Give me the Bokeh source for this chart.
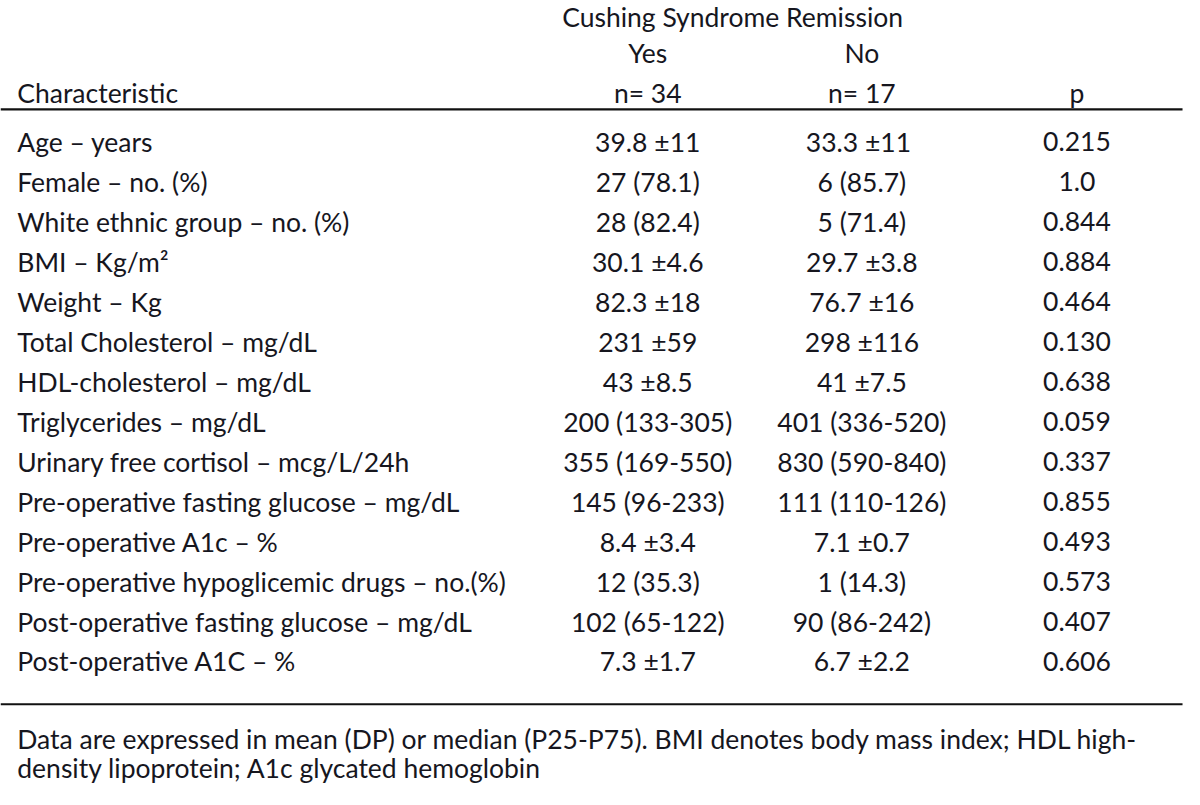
from bokeh.plotting import figure
from bokeh.models import Range1d, ColumnDataSource
from bokeh.core.properties import value
from bokeh.embed import file_html
from bokeh.resources import INLINE

# ---- data ----
characteristics = [
    "Age –  years",
    "Female – no. (%)",
    "White ethnic group – no. (%)",
    "BMI –  Kg/m²",
    "Weight –  Kg",
    "Total Cholesterol – mg/dL",
    "HDL-cholesterol – mg/dL",
    "Triglycerides – mg/dL",
    "Urinary free cortisol – mcg/L/24h",
    "Pre-operative fasting glucose – mg/dL",
    "Pre-operative A1c  – %",
    "Pre-operative hypoglicemic drugs – no.(%)",
    "Post-operative fasting glucose – mg/dL",
    "Post-operative A1C – %",
]
remission_yes = [
    "39.8 ±11", "27 (78.1)", "28 (82.4)", "30.1 ±4.6", "82.3 ±18", "231 ±59",
    "43 ±8.5", "200 (133-305)", "355 (169-550)", "145 (96-233)", "8.4 ±3.4",
    "12 (35.3)", "102 (65-122)", "7.3 ±1.7",
]
remission_no = [
    "33.3  ±11", "6 (85.7)", "5 (71.4)", "29.7 ±3.8", "76.7 ±16", "298 ±116",
    "41 ±7.5", "401 (336-520)", "830 (590-840)", "111 (110-126)", "7.1 ±0.7",
    "1 (14.3)", "90 (86-242)", "6.7 ±2.2",
]
p_values = [
    "0.215", "1.0", "0.844", "0.884", "0.464", "0.130", "0.638", "0.059",
    "0.337", "0.855", "0.493", "0.573", "0.407", "0.606",
]
group_title = "Cushing Syndrome Remission"
group_labels = ["Yes", "No"]
n_labels = ["n= 34", "n= 17"]
first_col_title = "Characteristic"
p_title = "p"
footnote = [
    "Data are expressed in mean (DP) or median (P25-P75). BMI denotes body mass index; HDL high-",
    "density lipoprotein; A1c glycated hemoglobin",
]

# ---- layout (reference pixel coordinates) ----
X_LEFT, X_YES, X_NO, X_P = 17, 656, 873, 1091
X_GROUP = 742
Y_TITLE, Y_GROUP, Y_N = 17, 54, 94
Y_LINE1, Y_LINE2 = 111, 718
Y_ROW0, ROW_STEP = 144, 40.8
Y_FOOT0, FOOT_STEP = 753, 30
FONT = value("Lato")
SIZE = "26.5px"
COLOR = "#16161e"

p = figure(width=1184, height=789, output_backend="svg", toolbar_location=None,
           x_range=Range1d(0, 1200), y_range=Range1d(805, 0),
           min_border=0, outline_line_color=None)
p.axis.visible = False
p.grid.visible = False
p.background_fill_color = "white"
p.border_fill_color = "white"

def put(xs, ys, texts, align):
    src = ColumnDataSource(dict(x=xs, y=ys, t=texts))
    p.text(x="x", y="y", text="t", source=src, text_font=FONT,
           text_font_size=SIZE, text_color=COLOR, text_align=align,
           text_baseline="middle")

# header
put([X_GROUP], [Y_TITLE], [group_title], "center")
put([X_YES, X_NO], [Y_GROUP, Y_GROUP], group_labels, "center")
put([X_LEFT], [Y_N], [first_col_title], "left")
put([X_YES, X_NO], [Y_N, Y_N], n_labels, "center")
put([X_P], [Y_N], [p_title], "center")

# rules
p.segment(x0=[0, 0], y0=[Y_LINE1, Y_LINE2], x1=[1198, 1198], y1=[Y_LINE1, Y_LINE2],
          line_color="#111111", line_width=2.2)

# body rows
ys = [Y_ROW0 + i * ROW_STEP for i in range(len(characteristics))]
put([X_LEFT] * len(ys), ys, characteristics, "left")
put([X_YES] * len(ys), ys, remission_yes, "center")
put([X_NO] * len(ys), ys, remission_no, "center")
put([X_P] * len(ys), ys, p_values, "center")

# footnote
fys = [Y_FOOT0 + i * FOOT_STEP for i in range(len(footnote))]
put([X_LEFT] * len(fys), fys, footnote, "left")

open("out.html", "w").write(file_html(p, INLINE))
